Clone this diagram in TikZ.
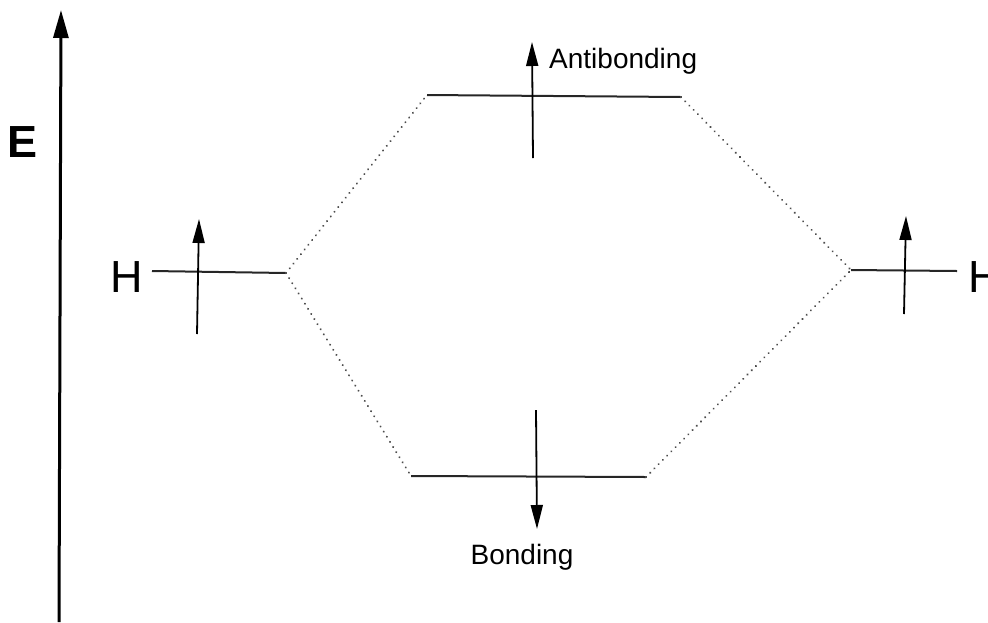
\documentclass[tikz,border=0pt]{standalone}
\usepackage{fontspec}
\setmainfont{Liberation Sans}
\usetikzlibrary{arrows.meta}
\begin{document}
\begin{tikzpicture}[x=1pt,y=-1pt,
  level/.style={line width=2pt, black!85},
  corr/.style={line width=2.2pt, dash pattern=on 0.01pt off 6pt, line cap=round, black!70},
  spin/.style={line width=1.8pt, -{Triangle[length=24pt,width=12pt]}},
  axis/.style={line width=3pt, -{Triangle[length=28pt,width=15pt]}},
  lbl/.style={font=\fontsize{28}{30}\selectfont, inner sep=0pt},
  big/.style={font=\fontsize{45}{50}\selectfont, inner sep=0pt}]
\useasboundingbox (0,0) rectangle (988,622);
% energy axis
\coordinate (ax0) at (59,622);
\coordinate (ax1) at (61,10);
\draw[axis] (ax0) -- (ax1);
\node[big, font=\fontsize{45}{50}\selectfont\bfseries] (E) at (23,142) {E};
% left H
\coordinate (hl1) at (152,271);
\coordinate (hl2) at (286,273);
\draw[level] (hl1) -- (hl2);
\node[big] (HL) at (127,277) {H};
\coordinate (sl0) at (197,334);
\coordinate (sl1) at (199,219);
\draw[spin] (sl0) -- (sl1);
% right H
\coordinate (hr1) at (851,270);
\coordinate (hr2) at (957,271);
\draw[level] (hr1) -- (hr2);
\node[big] (HR) at (985,277) {H};
\coordinate (sr0) at (904,314);
\coordinate (sr1) at (906,216);
\draw[spin] (sr0) -- (sr1);
% antibonding
\coordinate (a1) at (427,95);
\coordinate (a2) at (681,97);
\draw[level] (a1) -- (a2);
\coordinate (sa0) at (533,158);
\coordinate (sa1) at (532,42);
\draw[spin] (sa0) -- (sa1);
\node[lbl, anchor=west] (AB) at (549,61) {Antibonding};
% bonding
\coordinate (b1) at (411,476);
\coordinate (b2) at (646,477);
\draw[level] (b1) -- (b2);
\coordinate (sb0) at (536,410);
\coordinate (sb1) at (537,529);
\draw[spin] (sb0) -- (sb1);
\node[lbl] (BO) at (522,557) {Bonding};
% correlation lines
\draw[corr] (hl2) -- (a1);
\draw[corr] (hl2) -- (b1);
\draw[corr] (a2) -- (hr1);
\draw[corr] (b2) -- (hr1);
\end{tikzpicture}
\end{document}
